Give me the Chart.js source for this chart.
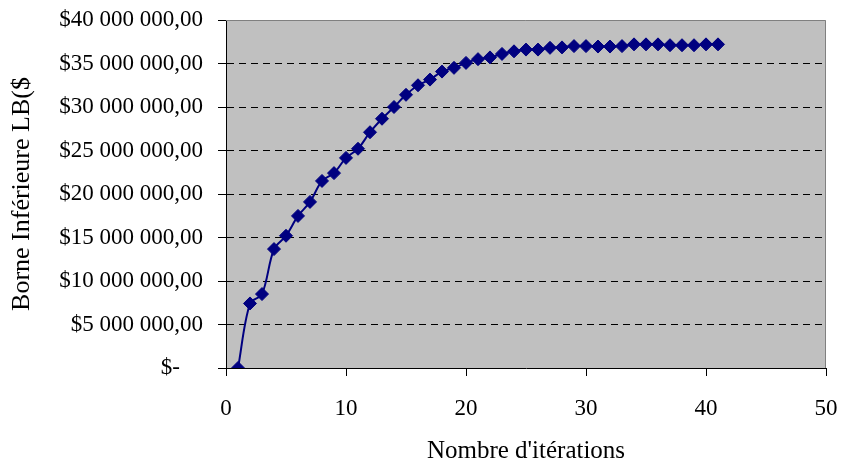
<!DOCTYPE html>
<html>
<head>
<meta charset="utf-8">
<script src="https://cdn.jsdelivr.net/npm/chart.js@4.4.1/dist/chart.umd.min.js"></script>
<style>
  html, body { margin: 0; padding: 0; background: #fff; }
  #wrap { width: 845px; height: 466px; }
</style>
</head>
<body>
<div id="wrap"><canvas id="chart" width="845" height="466"></canvas></div>
<script>
// iteration number and lower bound LB ($)
const iterations = [1, 2, 3, 4, 5, 6, 7, 8, 9, 10, 11, 12, 13, 14, 15, 16, 17, 18, 19, 20,
    21, 22, 23, 24, 25, 26, 27, 28, 29, 30, 31, 32, 33, 34, 35, 36, 37, 38, 39, 40, 41]
const lowerBound = [0, 7420000, 8500000, 13670000, 15200000, 17480000, 19090000, 21500000, 22400000, 24150000,
    25200000, 27100000, 28650000, 30000000, 31400000, 32500000, 33150000, 34070000, 34500000, 35070000,
    35500000, 35700000, 36100000, 36400000, 36600000, 36600000, 36800000, 36850000, 37000000, 37000000,
    36950000, 36950000, 37000000, 37200000, 37200000, 37200000, 37100000, 37100000, 37100000, 37200000, 37200000]
const xTicks = [0, 10, 20, 30, 40, 50]
const yTicks = [0, 5000000, 10000000, 15000000, 20000000, 25000000, 30000000, 35000000, 40000000]

const serif = "'Liberation Serif', 'Times New Roman', serif"

const formatMoney = (v) => {
    if (v === 0) return '$-    '
    const s = Math.round(v).toString().replace(/\B(?=(\d{3})+(?!\d))/g, ' ')
    return '$' + s + ',00'
}

const plotFrame = {
    id: 'plotFrame',
    beforeDraw(chart) {
        const { ctx, chartArea: a } = chart
        ctx.save()
        ctx.fillStyle = '#c0c0c0'
        ctx.fillRect(a.left, a.top, a.right - a.left, a.bottom - a.top)
        ctx.restore()
    },
    afterDatasetsDraw(chart) {
        const { ctx, chartArea: a } = chart
        ctx.save()
        ctx.strokeStyle = '#808080'
        ctx.lineWidth = 1
        ctx.beginPath()
        ctx.moveTo(a.left, a.top + 0.5)
        ctx.lineTo(a.right - 0.5, a.top + 0.5)
        ctx.lineTo(a.right - 0.5, a.bottom)
        ctx.stroke()
        ctx.restore()
    }
}

new Chart(document.getElementById('chart'), {
    type: 'line',
    data: {
        datasets: [{
            data: iterations.map((it, i) => ({ x: it, y: lowerBound[i] })),
            borderColor: '#000080',
            backgroundColor: '#000080',
            borderWidth: 2,
            tension: 0.33,
            pointStyle: 'rectRot',
            pointRadius: 6.5,
            pointBorderWidth: 1,
            fill: false,
        }]
    },
    options: {
        responsive: false,
        animation: false,
        layout: { padding: { left: 0, right: 19, top: 20, bottom: 0 } },
        plugins: {
            legend: { display: false },
            tooltip: { enabled: false }
        },
        scales: {
            x: {
                type: 'linear',
                min: 0,
                max: 50,
                afterBuildTicks: (scale) => { scale.ticks = xTicks.map(v => ({ value: v })) },
                afterFit: (scale) => {
                    scale.height = 98
                    scale.paddingLeft = 0
                    scale.paddingRight = 0
                },
                ticks: {
                    color: '#000',
                    font: { family: serif, size: 23 },
                    padding: 19,
                    maxRotation: 0,
                },
                grid: {
                    drawOnChartArea: false,
                    tickLength: 8,
                    tickColor: '#000',
                },
                border: { color: '#000', width: 1 },
                title: {
                    display: true,
                    text: "Nombre d'itérations",
                    color: '#000',
                    font: { family: serif, size: 25 },
                    padding: { top: 0, bottom: 0 },
                }
            },
            y: {
                min: 0,
                max: 40000000,
                afterBuildTicks: (scale) => { scale.ticks = yTicks.map(v => ({ value: v })) },
                afterFit: (scale) => {
                    scale.width = 226
                    scale.paddingTop = 0
                    scale.paddingBottom = 0
                },
                ticks: {
                    color: '#000',
                    font: { family: serif, size: 23 },
                    padding: 15,
                    callback: (v) => formatMoney(v),
                },
                grid: {
                    color: (c) => (c.tick && (c.tick.value === 0 || c.tick.value === 40000000)) ? 'rgba(0,0,0,0)' : '#000',
                    tickLength: 8,
                    tickColor: '#000',
                    tickBorderDash: [],
                },
                border: { color: '#000', width: 1, dash: [7, 5] },
                title: {
                    display: true,
                    text: 'Borne Inférieure LB($',
                    color: '#000',
                    font: { family: serif, size: 26 },
                    padding: { top: 7, bottom: 0 },
                }
            }
        }
    },
    plugins: [plotFrame]
})
</script>
</body>
</html>
